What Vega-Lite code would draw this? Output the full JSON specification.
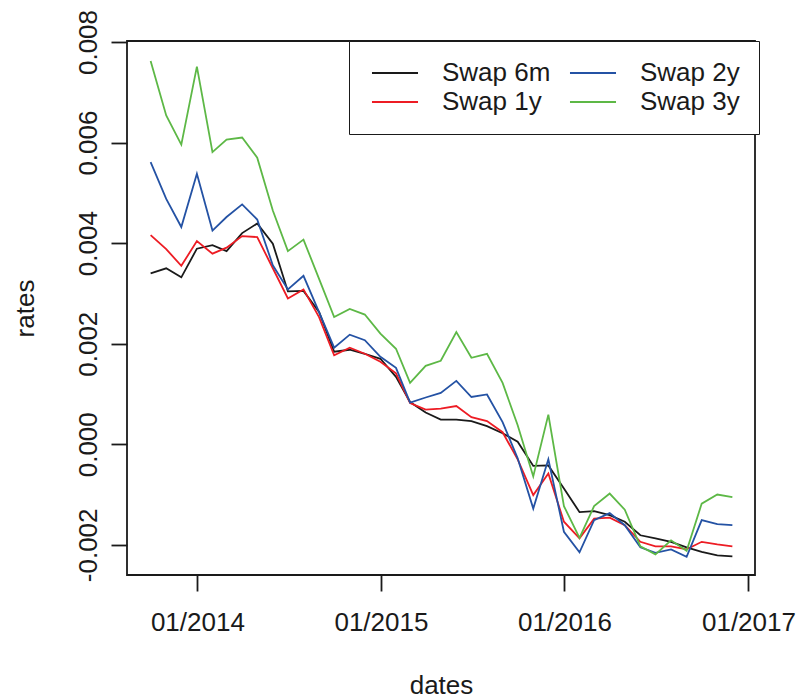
{
  "$schema": "https://vega.github.io/schema/vega-lite/v6.json",
  "width": 628,
  "height": 534,
  "autosize": "none",
  "padding": {"left": 127, "top": 41, "right": 43, "bottom": 124},
  "background": "white",
  "config": {
    "view": {"stroke": "#1a1a1a", "strokeWidth": 1.8},
    "axis": {
      "domain": false, "grid": false, "ticks": true,
      "tickColor": "#1a1a1a", "tickWidth": 1.8, "tickSize": 16,
      "labelFont": "Liberation Sans", "labelFontSize": 26, "labelColor": "#1a1a1a",
      "titleFont": "Liberation Sans", "titleFontSize": 26, "titleFontWeight": "normal", "titleColor": "#1a1a1a",
      "labelOverlap": false, "labelFlush": false
    }
  },
  "data": {"values": [
    {"date":"2013-09-30","series":"Swap 6m","rate":0.00340},{"date":"2013-09-30","series":"Swap 1y","rate":0.00416},{"date":"2013-09-30","series":"Swap 2y","rate":0.00561},{"date":"2013-09-30","series":"Swap 3y","rate":0.00762},
    {"date":"2013-10-31","series":"Swap 6m","rate":0.00350},{"date":"2013-10-31","series":"Swap 1y","rate":0.00388},{"date":"2013-10-31","series":"Swap 2y","rate":0.00488},{"date":"2013-10-31","series":"Swap 3y","rate":0.00654},
    {"date":"2013-11-30","series":"Swap 6m","rate":0.00332},{"date":"2013-11-30","series":"Swap 1y","rate":0.00355},{"date":"2013-11-30","series":"Swap 2y","rate":0.00432},{"date":"2013-11-30","series":"Swap 3y","rate":0.00596},
    {"date":"2013-12-31","series":"Swap 6m","rate":0.00389},{"date":"2013-12-31","series":"Swap 1y","rate":0.00404},{"date":"2013-12-31","series":"Swap 2y","rate":0.00538},{"date":"2013-12-31","series":"Swap 3y","rate":0.00751},
    {"date":"2014-01-31","series":"Swap 6m","rate":0.00396},{"date":"2014-01-31","series":"Swap 1y","rate":0.00379},{"date":"2014-01-31","series":"Swap 2y","rate":0.00425},{"date":"2014-01-31","series":"Swap 3y","rate":0.00581},
    {"date":"2014-02-28","series":"Swap 6m","rate":0.00384},{"date":"2014-02-28","series":"Swap 1y","rate":0.00391},{"date":"2014-02-28","series":"Swap 2y","rate":0.00452},{"date":"2014-02-28","series":"Swap 3y","rate":0.00606},
    {"date":"2014-03-31","series":"Swap 6m","rate":0.00420},{"date":"2014-03-31","series":"Swap 1y","rate":0.00414},{"date":"2014-03-31","series":"Swap 2y","rate":0.00477},{"date":"2014-03-31","series":"Swap 3y","rate":0.00610},
    {"date":"2014-04-30","series":"Swap 6m","rate":0.00439},{"date":"2014-04-30","series":"Swap 1y","rate":0.00412},{"date":"2014-04-30","series":"Swap 2y","rate":0.00447},{"date":"2014-04-30","series":"Swap 3y","rate":0.00570},
    {"date":"2014-05-31","series":"Swap 6m","rate":0.00399},{"date":"2014-05-31","series":"Swap 1y","rate":0.00350},{"date":"2014-05-31","series":"Swap 2y","rate":0.00356},{"date":"2014-05-31","series":"Swap 3y","rate":0.00465},
    {"date":"2014-06-30","series":"Swap 6m","rate":0.00304},{"date":"2014-06-30","series":"Swap 1y","rate":0.00290},{"date":"2014-06-30","series":"Swap 2y","rate":0.00308},{"date":"2014-06-30","series":"Swap 3y","rate":0.00384},
    {"date":"2014-07-31","series":"Swap 6m","rate":0.00305},{"date":"2014-07-31","series":"Swap 1y","rate":0.00308},{"date":"2014-07-31","series":"Swap 2y","rate":0.00335},{"date":"2014-07-31","series":"Swap 3y","rate":0.00407},
    {"date":"2014-08-31","series":"Swap 6m","rate":0.00263},{"date":"2014-08-31","series":"Swap 1y","rate":0.00253},{"date":"2014-08-31","series":"Swap 2y","rate":0.00263},{"date":"2014-08-31","series":"Swap 3y","rate":0.00329},
    {"date":"2014-09-30","series":"Swap 6m","rate":0.00184},{"date":"2014-09-30","series":"Swap 1y","rate":0.00177},{"date":"2014-09-30","series":"Swap 2y","rate":0.00192},{"date":"2014-09-30","series":"Swap 3y","rate":0.00253},
    {"date":"2014-10-31","series":"Swap 6m","rate":0.00188},{"date":"2014-10-31","series":"Swap 1y","rate":0.00192},{"date":"2014-10-31","series":"Swap 2y","rate":0.00218},{"date":"2014-10-31","series":"Swap 3y","rate":0.00269},
    {"date":"2014-11-30","series":"Swap 6m","rate":0.00180},{"date":"2014-11-30","series":"Swap 1y","rate":0.00180},{"date":"2014-11-30","series":"Swap 2y","rate":0.00207},{"date":"2014-11-30","series":"Swap 3y","rate":0.00258},
    {"date":"2014-12-31","series":"Swap 6m","rate":0.00170},{"date":"2014-12-31","series":"Swap 1y","rate":0.00164},{"date":"2014-12-31","series":"Swap 2y","rate":0.00174},{"date":"2014-12-31","series":"Swap 3y","rate":0.00220},
    {"date":"2015-01-31","series":"Swap 6m","rate":0.00134},{"date":"2015-01-31","series":"Swap 1y","rate":0.00141},{"date":"2015-01-31","series":"Swap 2y","rate":0.00152},{"date":"2015-01-31","series":"Swap 3y","rate":0.00190},
    {"date":"2015-02-28","series":"Swap 6m","rate":0.00084},{"date":"2015-02-28","series":"Swap 1y","rate":0.00082},{"date":"2015-02-28","series":"Swap 2y","rate":0.00083},{"date":"2015-02-28","series":"Swap 3y","rate":0.00122},
    {"date":"2015-03-31","series":"Swap 6m","rate":0.00063},{"date":"2015-03-31","series":"Swap 1y","rate":0.00069},{"date":"2015-03-31","series":"Swap 2y","rate":0.00093},{"date":"2015-03-31","series":"Swap 3y","rate":0.00156},
    {"date":"2015-04-30","series":"Swap 6m","rate":0.00049},{"date":"2015-04-30","series":"Swap 1y","rate":0.00071},{"date":"2015-04-30","series":"Swap 2y","rate":0.00102},{"date":"2015-04-30","series":"Swap 3y","rate":0.00166},
    {"date":"2015-05-31","series":"Swap 6m","rate":0.00049},{"date":"2015-05-31","series":"Swap 1y","rate":0.00076},{"date":"2015-05-31","series":"Swap 2y","rate":0.00126},{"date":"2015-05-31","series":"Swap 3y","rate":0.00223},
    {"date":"2015-06-30","series":"Swap 6m","rate":0.00046},{"date":"2015-06-30","series":"Swap 1y","rate":0.00054},{"date":"2015-06-30","series":"Swap 2y","rate":0.00094},{"date":"2015-06-30","series":"Swap 3y","rate":0.00172},
    {"date":"2015-07-31","series":"Swap 6m","rate":0.00036},{"date":"2015-07-31","series":"Swap 1y","rate":0.00046},{"date":"2015-07-31","series":"Swap 2y","rate":0.00099},{"date":"2015-07-31","series":"Swap 3y","rate":0.00180},
    {"date":"2015-08-31","series":"Swap 6m","rate":0.00022},{"date":"2015-08-31","series":"Swap 1y","rate":0.00024},{"date":"2015-08-31","series":"Swap 2y","rate":0.00044},{"date":"2015-08-31","series":"Swap 3y","rate":0.00122},
    {"date":"2015-09-30","series":"Swap 6m","rate":0.00005},{"date":"2015-09-30","series":"Swap 1y","rate":-0.00030},{"date":"2015-09-30","series":"Swap 2y","rate":-0.00028},{"date":"2015-09-30","series":"Swap 3y","rate":0.00038},
    {"date":"2015-10-31","series":"Swap 6m","rate":-0.00043},{"date":"2015-10-31","series":"Swap 1y","rate":-0.00101},{"date":"2015-10-31","series":"Swap 2y","rate":-0.00128},{"date":"2015-10-31","series":"Swap 3y","rate":-0.00064},
    {"date":"2015-11-30","series":"Swap 6m","rate":-0.00042},{"date":"2015-11-30","series":"Swap 1y","rate":-0.00058},{"date":"2015-11-30","series":"Swap 2y","rate":-0.00030},{"date":"2015-11-30","series":"Swap 3y","rate":0.00059},
    {"date":"2015-12-31","series":"Swap 6m","rate":-0.00088},{"date":"2015-12-31","series":"Swap 1y","rate":-0.00154},{"date":"2015-12-31","series":"Swap 2y","rate":-0.00174},{"date":"2015-12-31","series":"Swap 3y","rate":-0.00123},
    {"date":"2016-01-31","series":"Swap 6m","rate":-0.00135},{"date":"2016-01-31","series":"Swap 1y","rate":-0.00187},{"date":"2016-01-31","series":"Swap 2y","rate":-0.00215},{"date":"2016-01-31","series":"Swap 3y","rate":-0.00186},
    {"date":"2016-02-29","series":"Swap 6m","rate":-0.00133},{"date":"2016-02-29","series":"Swap 1y","rate":-0.00148},{"date":"2016-02-29","series":"Swap 2y","rate":-0.00151},{"date":"2016-02-29","series":"Swap 3y","rate":-0.00123},
    {"date":"2016-03-31","series":"Swap 6m","rate":-0.00141},{"date":"2016-03-31","series":"Swap 1y","rate":-0.00146},{"date":"2016-03-31","series":"Swap 2y","rate":-0.00137},{"date":"2016-03-31","series":"Swap 3y","rate":-0.00098},
    {"date":"2016-04-30","series":"Swap 6m","rate":-0.00154},{"date":"2016-04-30","series":"Swap 1y","rate":-0.00161},{"date":"2016-04-30","series":"Swap 2y","rate":-0.00161},{"date":"2016-04-30","series":"Swap 3y","rate":-0.00130},
    {"date":"2016-05-31","series":"Swap 6m","rate":-0.00181},{"date":"2016-05-31","series":"Swap 1y","rate":-0.00194},{"date":"2016-05-31","series":"Swap 2y","rate":-0.00205},{"date":"2016-05-31","series":"Swap 3y","rate":-0.00203},
    {"date":"2016-06-30","series":"Swap 6m","rate":-0.00187},{"date":"2016-06-30","series":"Swap 1y","rate":-0.00203},{"date":"2016-06-30","series":"Swap 2y","rate":-0.00216},{"date":"2016-06-30","series":"Swap 3y","rate":-0.00219},
    {"date":"2016-07-31","series":"Swap 6m","rate":-0.00194},{"date":"2016-07-31","series":"Swap 1y","rate":-0.00203},{"date":"2016-07-31","series":"Swap 2y","rate":-0.00209},{"date":"2016-07-31","series":"Swap 3y","rate":-0.00191},
    {"date":"2016-08-31","series":"Swap 6m","rate":-0.00205},{"date":"2016-08-31","series":"Swap 1y","rate":-0.00209},{"date":"2016-08-31","series":"Swap 2y","rate":-0.00224},{"date":"2016-08-31","series":"Swap 3y","rate":-0.00212},
    {"date":"2016-09-30","series":"Swap 6m","rate":-0.00214},{"date":"2016-09-30","series":"Swap 1y","rate":-0.00194},{"date":"2016-09-30","series":"Swap 2y","rate":-0.00151},{"date":"2016-09-30","series":"Swap 3y","rate":-0.00118},
    {"date":"2016-10-31","series":"Swap 6m","rate":-0.00221},{"date":"2016-10-31","series":"Swap 1y","rate":-0.00199},{"date":"2016-10-31","series":"Swap 2y","rate":-0.00159},{"date":"2016-10-31","series":"Swap 3y","rate":-0.00100},
    {"date":"2016-11-30","series":"Swap 6m","rate":-0.00223},{"date":"2016-11-30","series":"Swap 1y","rate":-0.00203},{"date":"2016-11-30","series":"Swap 2y","rate":-0.00161},{"date":"2016-11-30","series":"Swap 3y","rate":-0.00105}
  ]},
  "mark": {"type": "line", "strokeWidth": 1.8},
  "encoding": {
    "x": {
      "field": "date", "type": "temporal",
      "scale": {"type": "utc", "domain": [{"year": 2013, "month": 8, "date": 14, "utc": true}, {"year": 2017, "month": 1, "date": 14, "utc": true}]},
      "axis": {
        "values": [{"year": 2014, "month": 1, "date": 1, "utc": true}, {"year": 2015, "month": 1, "date": 1, "utc": true}, {"year": 2016, "month": 1, "date": 1, "utc": true}, {"year": 2017, "month": 1, "date": 1, "utc": true}],
        "labelExpr": "utcFormat(datum.value, '%m/%Y')",
        "labelPadding": 18,
        "title": "dates", "titleX": 314, "titleY": 118, "titleAlign": "center", "titleBaseline": "alphabetic"
      }
    },
    "y": {
      "field": "rate", "type": "quantitative",
      "scale": {"domain": [-0.0026, 0.00802], "nice": false, "zero": false},
      "axis": {
        "values": [-0.002, 0, 0.002, 0.004, 0.006, 0.008],
        "labelExpr": "replace(format(datum.value, '.3f'), '\u2212', '-')",
        "labelAngle": 270, "labelAlign": "center", "labelBaseline": "alphabetic", "labelPadding": 15,
        "title": "rates", "titleAngle": 270, "titleX": -94, "titleY": 267, "titleAlign": "center", "titleBaseline": "alphabetic"
      }
    },
    "color": {
      "field": "series", "type": "nominal",
      "scale": {"domain": ["Swap 6m", "Swap 1y", "Swap 2y", "Swap 3y"], "range": ["#1a1a1a", "#ed1c24", "#2452a4", "#5db846"]},
      "legend": {
        "orient": "none", "legendX": 222, "legendY": 0,
        "title": null, "columns": 2, "direction": "vertical",
        "strokeColor": "#1a1a1a", "fillColor": "white",
        "padding": 19, "rowPadding": 3, "columnPadding": 15,
        "labelFont": "Liberation Sans", "labelFontSize": 26, "labelColor": "#1a1a1a", "labelLimit": 300,
        "symbolType": "M-2.5,0H2.5", "symbolSize": 339, "symbolStrokeWidth": 1.8, "symbolOffset": 14, "labelOffset": 34
      }
    }
  }
}
